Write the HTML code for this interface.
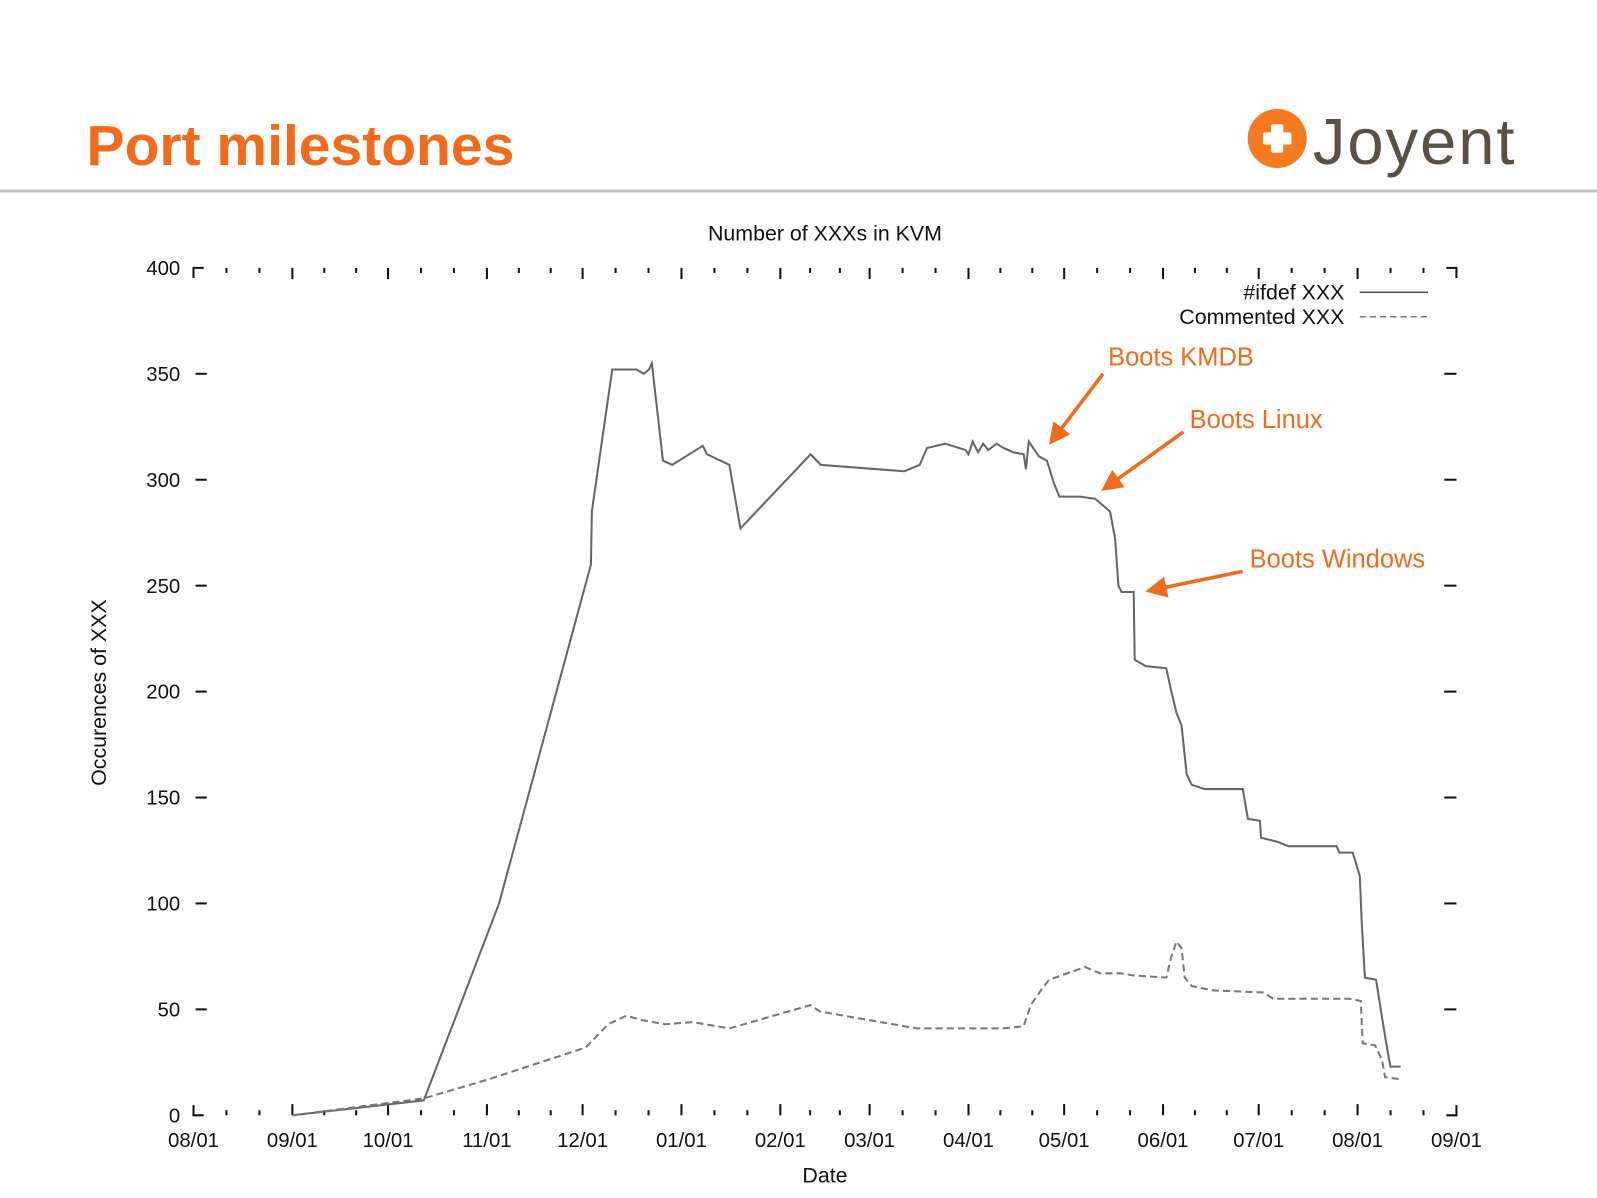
<!DOCTYPE html>
<html><head><meta charset="utf-8"><style>
body{margin:0;background:#fff;}
svg{display:block;font-family:"Liberation Sans",sans-serif;}
</style></head><body>
<svg id="c" width="1597" height="1198" viewBox="0 0 1568 1176.2" preserveAspectRatio="none">
<text x="85" y="162" font-size="56" font-weight="bold" fill="#f26a1b">Port milestones</text>
<rect x="0" y="186" width="1568" height="3" fill="#c4c4c4"/>
<g>
<circle cx="1254" cy="136" r="29" fill="#f47b20"/>
<rect x="1240" y="130" width="28" height="12" rx="2" fill="#fff"/>
<rect x="1248" y="122" width="12" height="28" rx="2" fill="#fff"/>
<text x="1289" y="161" font-size="64" fill="#5a5146" textLength="198">Joyent</text>
</g>
<text x="810" y="236" font-size="21" text-anchor="middle" fill="#111">Number of XXXs in KVM</text>
<text x="810" y="1161" font-size="21" text-anchor="middle" fill="#111">Date</text>
<text transform="translate(104,680) rotate(-90)" font-size="21" text-anchor="middle" fill="#111">Occurences of XXX</text>
<g id="axes"></g>
<g id="series"></g>
<g>
<text x="1320" y="294" font-size="21" text-anchor="end" fill="#111">#ifdef XXX</text>
<line x1="1335" y1="287" x2="1402" y2="287" stroke="#555" stroke-width="1.5"/>
<text x="1320" y="318" font-size="21" text-anchor="end" fill="#111">Commented XXX</text>
<line x1="1335" y1="311" x2="1402" y2="311" stroke="#777" stroke-width="1.5" stroke-dasharray="6,4"/>
</g>
<g fill="#f26a1b" font-size="25">
<text x="1088" y="359">Boots KMDB</text>
<text x="1168" y="420">Boots Linux</text>
<text x="1227" y="557">Boots Windows</text>
</g>
<defs><marker id="ah" markerWidth="6" markerHeight="6" refX="5" refY="3" orient="auto" markerUnits="strokeWidth"><path d="M0,0 L6,3 L0,6 z" fill="#f26a1b"/></marker></defs>
<g stroke="#f26a1b" stroke-width="3.5" marker-end="url(#ah)">
<line x1="1083" y1="367" x2="1032" y2="434"/>
<line x1="1162" y1="424" x2="1084" y2="480"/>
<line x1="1220" y1="561" x2="1128" y2="580"/>
</g>
</svg>
<script>
const monthLabels=["08/01","09/01","10/01","11/01","12/01","01/01","02/01","03/01","04/01","05/01","06/01","07/01","08/01","09/01"];
const monthDays=[0,31,61,92,122,153,184,212,243,273,304,334,365,396];
const yTicks=[0,50,100,150,200,250,300,350,400];
const ifdefDays=[31,72.2,95.8,124.6,124.9,131.3,138.9,141.2,142.8,143.7,147.2,150.1,159.7,161,168,171.5,193.5,196.7,222.9,227.7,230,235.7,242.1,243,244.3,246,247.6,249.2,251.8,254,257,260.3,261,261.9,265.1,267.6,269.9,271.5,277.9,282.7,287.4,289,290,291,294.8,295.1,298.6,305,306.6,308.2,309.8,311.4,313,317.1,329,330.6,334.4,334.7,340.1,343.3,358.4,359.3,363.5,365.7,366.3,367.3,370.8,372.7,374.3,375.3,378.5];
const ifdefVals=[0,7,100,260,285,352,352,350,352,355,309,307,316,312,307,277,312,307,304,307,315,317,314,312,318,313,317,314,317,315,313,312,305,318,311,309,298,292,292,291,285,272,250,247,247,215,212,211,200,190,184,161,156,154,154,140,139,131,129,127,127,124,124,113,91,65,64,46,31,23,23];
const commentDays=[31,72.2,92.6,123,130,135.7,140.5,147.9,156.5,168,193.5,196.4,226.8,253.9,260.3,262.5,265.7,268.3,272.1,279.5,284.3,290.6,294.8,305,306.6,308.2,309.8,310.8,313,319.4,335.4,338.6,362.5,366,366.6,370.5,372.7,373.6,378.5];
const commentVals=[0,8,17,32,43,47,45,43,44,41,52,49,41,41,42,52,59,64,66,70,67,67,66,65,75,82,79,65,61,59,58,55,55,54,34,33,26,18,17];
const X0=190,X1=1430,Y0=1095,Y1=263;
const x=d=>X0+(X1-X0)*d/396;
const y=v=>Y0-(Y0-Y1)*v/400;
const NS="http://www.w3.org/2000/svg";
const ax=document.getElementById('axes');
function mk(tag,attrs,parent){const e=document.createElementNS(NS,tag);for(const k in attrs)e.setAttribute(k,attrs[k]);parent.appendChild(e);return e;}
let p='M'+X0+','+(Y1+10)+'V'+Y1+'H'+(X0+10)+'M'+(X1-10)+','+Y1+'H'+X1+'V'+(Y1+10)+'M'+X0+','+(Y0-10)+'V'+Y0+'H'+(X0+10)+'M'+(X1-10)+','+Y0+'H'+X1+'V'+(Y0-10);
const corners=mk('path',{d:p,stroke:'#111','stroke-width':2,fill:'none'},ax);


monthDays.forEach((d,i)=>{
  const xx=x(d);
  if(i>0&&i<monthDays.length-1){
    const t1=mk('line',{x1:xx,x2:xx,y1:Y0,y2:Y0-11,stroke:'#111','stroke-width':2},ax);
    
    
    const t2=mk('line',{x1:xx,x2:xx,y1:Y1,y2:Y1+11,stroke:'#111','stroke-width':2},ax);
    
    
  }
  if(i<monthDays.length-1){
    const nd=monthDays[i+1];
    [1,2].forEach(k=>{const mx=x(d+(nd-d)*k/3);
      const m1=mk('line',{x1:mx,x2:mx,y1:Y0,y2:Y0-5,stroke:'#111','stroke-width':2},ax);
      
      
      const m2=mk('line',{x1:mx,x2:mx,y1:Y1,y2:Y1+5,stroke:'#111','stroke-width':2},ax);
      
      });
  }
  const lb=mk('text',{x:xx,y:1126,'font-size':20,'text-anchor':'middle',fill:'#111'},ax);
  lb.textContent=monthLabels[i];
  
  
});
yTicks.forEach(v=>{
  const yy=y(v);
  if(v>0&&v<400){
    const a=mk('line',{x1:192,x2:203,y1:yy,y2:yy,stroke:'#111','stroke-width':2},ax);
    
    
    const b=mk('line',{x1:1418,x2:1430,y1:yy,y2:yy,stroke:'#111','stroke-width':2},ax);
    
    
  }
  const lb=mk('text',{x:177,y:yy+7,'font-size':20,'text-anchor':'end',fill:'#111'},ax);
  lb.textContent=v;
  
  
});
const sg=document.getElementById('series');
function line(ds,vs,attrs){return mk('path',Object.assign({d:ds.map((d,i)=>(i?'L':'M')+x(d).toFixed(1)+','+y(vs[i]).toFixed(1)).join(''),fill:'none'},attrs),sg);}
const s1=line(ifdefDays,ifdefVals,{stroke:'#666','stroke-width':2});


const s2=line(commentDays,commentVals,{stroke:'#777','stroke-width':2,'stroke-dasharray':'7,4'});


</script>
</body></html>
